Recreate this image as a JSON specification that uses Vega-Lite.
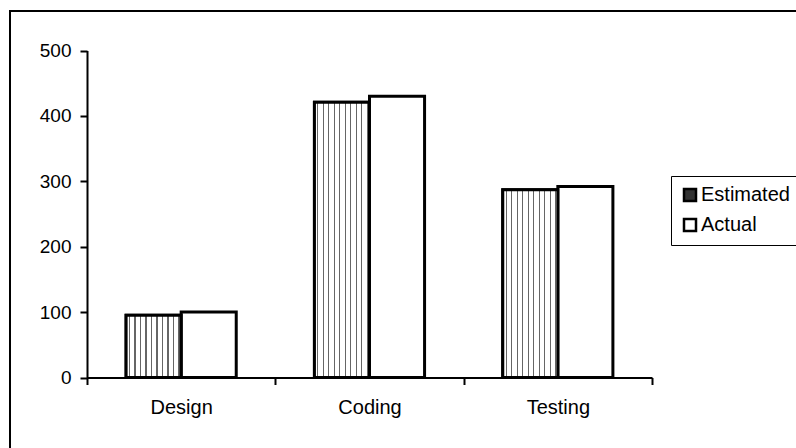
{
  "$schema": "https://vega.github.io/schema/vega-lite/v6.json",
  "width": 790,
  "height": 440,
  "autosize": {"type": "none"},
  "padding": {"left": 10, "top": 11, "right": 0, "bottom": 0},
  "background": "white",
  "config": {"view": {"stroke": "black", "strokeWidth": 2}, "font": "Liberation Sans"},
  "data": {
    "values": [
      {"phase": "Design", "series": "Estimated", "amount": 95},
      {"phase": "Design", "series": "Actual", "amount": 100},
      {"phase": "Coding", "series": "Estimated", "amount": 421},
      {"phase": "Coding", "series": "Actual", "amount": 430},
      {"phase": "Testing", "series": "Estimated", "amount": 287},
      {"phase": "Testing", "series": "Actual", "amount": 292}
    ]
  },
  "encoding": {
    "x": {
      "field": "phase",
      "type": "nominal",
      "sort": ["Design", "Coding", "Testing"],
      "scale": {"range": [77, 642], "paddingInner": 0, "paddingOuter": 0},
      "axis": {
        "title": null,
        "orient": "bottom",
        "offset": -73.5,
        "labelAngle": 0,
        "tickBand": "extent",
        "domainColor": "black",
        "domainWidth": 2,
        "tickColor": "black",
        "tickWidth": 2,
        "tickSize": 7,
        "labelFontSize": 20,
        "labelColor": "black",
        "labelFont": "Liberation Sans",
        "labelPadding": 13
      }
    },
    "xOffset": {
      "field": "series",
      "type": "nominal",
      "sort": ["Estimated", "Actual"],
      "scale": {"domain": ["Estimated", "Actual"], "paddingInner": 0, "paddingOuter": 0.71}
    },
    "y": {
      "field": "amount",
      "type": "quantitative",
      "scale": {"domain": [0, 500], "range": [366.5, 39.5], "nice": false},
      "axis": {
        "title": null,
        "orient": "left",
        "offset": -77,
        "values": [0, 100, 200, 300, 400, 500],
        "grid": false,
        "domainColor": "black",
        "domainWidth": 2,
        "tickColor": "black",
        "tickWidth": 2,
        "tickSize": 7,
        "labelFontSize": 19,
        "labelColor": "black",
        "labelFont": "Liberation Sans",
        "labelPadding": 9
      }
    }
  },
  "layer": [
    {
      "mark": {"type": "bar", "stroke": "black", "strokeWidth": 3},
      "encoding": {
        "fill": {
          "field": "series",
          "type": "nominal",
          "sort": ["Estimated", "Actual"],
          "scale": {"domain": ["Estimated", "Actual"], "range": ["#333333", "white"]},
          "legend": {
            "title": null,
            "orient": "none",
            "legendX": 661,
            "legendY": 165,
            "strokeColor": "black",
            "fillColor": "white",
            "padding": 9,
            "symbolType": "square",
            "symbolSize": 144,
            "symbolStrokeColor": "black",
            "symbolStrokeWidth": 2.5,
            "symbolOpacity": 1,
            "labelFontSize": 20,
            "labelColor": "black",
            "labelFont": "Liberation Sans",
            "labelOffset": 1,
            "rowPadding": 8
          }
        }
      }
    },
    {
      "transform": [{"filter": "datum.series === 'Estimated'"}],
      "mark": {
        "type": "bar",
        "stroke": "black",
        "strokeWidth": 3,
        "fill": {
          "gradient": "linear",
          "x1": 0, "y1": 0, "x2": 1, "y2": 0,
          "stops": [
            {"offset": 0, "color": "white"},
            {"offset": 0.05, "color": "white"},
            {"offset": 0.05, "color": "#666666"},
            {"offset": 0.072, "color": "#666666"},
            {"offset": 0.072, "color": "white"},
            {"offset": 0.15, "color": "white"},
            {"offset": 0.15, "color": "#666666"},
            {"offset": 0.172, "color": "#666666"},
            {"offset": 0.172, "color": "white"},
            {"offset": 0.25, "color": "white"},
            {"offset": 0.25, "color": "#666666"},
            {"offset": 0.272, "color": "#666666"},
            {"offset": 0.272, "color": "white"},
            {"offset": 0.35, "color": "white"},
            {"offset": 0.35, "color": "#666666"},
            {"offset": 0.372, "color": "#666666"},
            {"offset": 0.372, "color": "white"},
            {"offset": 0.45, "color": "white"},
            {"offset": 0.45, "color": "#666666"},
            {"offset": 0.472, "color": "#666666"},
            {"offset": 0.472, "color": "white"},
            {"offset": 0.55, "color": "white"},
            {"offset": 0.55, "color": "#666666"},
            {"offset": 0.572, "color": "#666666"},
            {"offset": 0.572, "color": "white"},
            {"offset": 0.65, "color": "white"},
            {"offset": 0.65, "color": "#666666"},
            {"offset": 0.672, "color": "#666666"},
            {"offset": 0.672, "color": "white"},
            {"offset": 0.75, "color": "white"},
            {"offset": 0.75, "color": "#666666"},
            {"offset": 0.772, "color": "#666666"},
            {"offset": 0.772, "color": "white"},
            {"offset": 0.85, "color": "white"},
            {"offset": 0.85, "color": "#666666"},
            {"offset": 0.872, "color": "#666666"},
            {"offset": 0.872, "color": "white"},
            {"offset": 0.95, "color": "white"},
            {"offset": 0.95, "color": "#666666"},
            {"offset": 0.972, "color": "#666666"},
            {"offset": 0.972, "color": "white"},
            {"offset": 1, "color": "white"}
          ]
        }
      }
    }
  ]
}
